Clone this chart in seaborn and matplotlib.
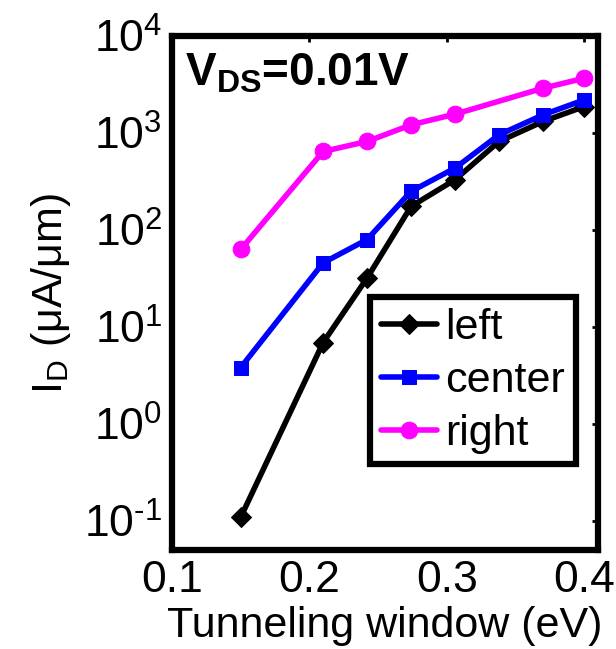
import numpy as np
import pandas as pd
import matplotlib
matplotlib.use("Agg")
import matplotlib.pyplot as plt
import seaborn as sns
from matplotlib.ticker import LogLocator, NullLocator, FixedLocator, FuncFormatter

# ---- data ----
x_left = [0.15, 0.21, 0.242, 0.274, 0.306, 0.338, 0.37, 0.40]
left = [0.109, 6.9, 32, 175, 330, 818, 1314, 1875]
x_center = [0.15, 0.21, 0.242, 0.274, 0.306, 0.338, 0.37, 0.40]
center = [3.81, 45.8, 79.7, 250, 435, 958, 1538, 2196]
x_right = [0.15, 0.21, 0.242, 0.274, 0.306, 0.37, 0.40]
right = [63, 645, 818, 1214, 1564, 2897, 3672]
series_names = ["left", "center", "right"]
x_ticks = [0.1, 0.2, 0.3, 0.4]
x_tick_labels = ["0.1", "0.2", "0.3", "0.4"]

sns.set_style("white")
plt.rcParams["font.family"] = ["Liberation Sans", "DejaVu Sans"]
plt.rcParams["mathtext.fontset"] = "custom"
plt.rcParams["mathtext.rm"] = "Liberation Sans"
plt.rcParams["mathtext.it"] = "Liberation Sans"
plt.rcParams["mathtext.bf"] = "Liberation Sans:bold"
plt.rcParams["mathtext.default"] = "regular"
plt.rcParams["axes.unicode_minus"] = False
plt.rcParams["text.color"] = "black"
plt.rcParams["axes.labelcolor"] = "black"
plt.rcParams["xtick.color"] = "black"
plt.rcParams["ytick.color"] = "black"

df = pd.concat([
    pd.DataFrame({"x": x_left, "y": left, "series": "left"}),
    pd.DataFrame({"x": x_center, "y": center, "series": "center"}),
    pd.DataFrame({"x": x_right, "y": right, "series": "right"}),
], ignore_index=True)

fig = plt.figure(figsize=(6.16, 6.49), dpi=100)
ax = fig.add_axes([0.2792, 0.1525, 0.6916, 0.792])

styles = {
    "left": dict(color="black", marker="D", markersize=10),
    "center": dict(color="#0000ff", marker="s", markersize=10),
    "right": dict(color="#ff00ff", marker="o", markersize=12),
}
for name in series_names:
    sub = df[df["series"] == name]
    st = styles[name]
    sns.lineplot(data=sub, x="x", y="y", ax=ax, label=name, color=st["color"],
                 marker=st["marker"], markersize=st["markersize"],
                 markeredgecolor=st["color"], linewidth=4, estimator=None,
                 sort=False)

ax.set_yscale("log")
ax.set_xlim(0.1, 0.41)
ax.set_ylim(0.05, 1e4)
ax.yaxis.set_major_locator(LogLocator(base=10, numticks=20))
ax.yaxis.set_minor_locator(NullLocator())


def log_fmt(v, pos):
    e = int(round(np.log10(v)))
    s = str(e).replace("-", "\u2010")
    return "10$^{%s}$" % s


ax.yaxis.set_major_formatter(FuncFormatter(log_fmt))
ax.xaxis.set_major_locator(FixedLocator(x_ticks))
ax.set_xticklabels(x_tick_labels)

for sp in ax.spines.values():
    sp.set_visible(True)
    sp.set_linewidth(4.5)
    sp.set_color("black")

ax.tick_params(axis="both", which="major", direction="in", length=4, width=2,
               labelsize=32, top=True, right=True, pad=7, colors="black")

ax.set_xlabel("Tunneling window (eV)", fontsize=31, labelpad=4, color="black")
ax.set_ylabel("I$_D$ (μA/μm)", fontsize=31, labelpad=8, color="black")

ax.text(0.03, 0.97, "V$_{DS}$=0.01V", transform=ax.transAxes, fontsize=33,
        fontweight="bold", va="top", ha="left", color="black")

leg = ax.legend(loc="upper left", bbox_to_anchor=(0.465, 0.492),
                borderaxespad=0, fontsize=31, frameon=True, fancybox=False,
                handlelength=1.3, handletextpad=0.2, labelspacing=0.3,
                borderpad=0.25, edgecolor="black")
leg.get_frame().set_linewidth(4.5)
leg.get_frame().set_alpha(1)
for t in leg.get_texts():
    t.set_color("black")

fig.savefig("out.png", dpi=100)
